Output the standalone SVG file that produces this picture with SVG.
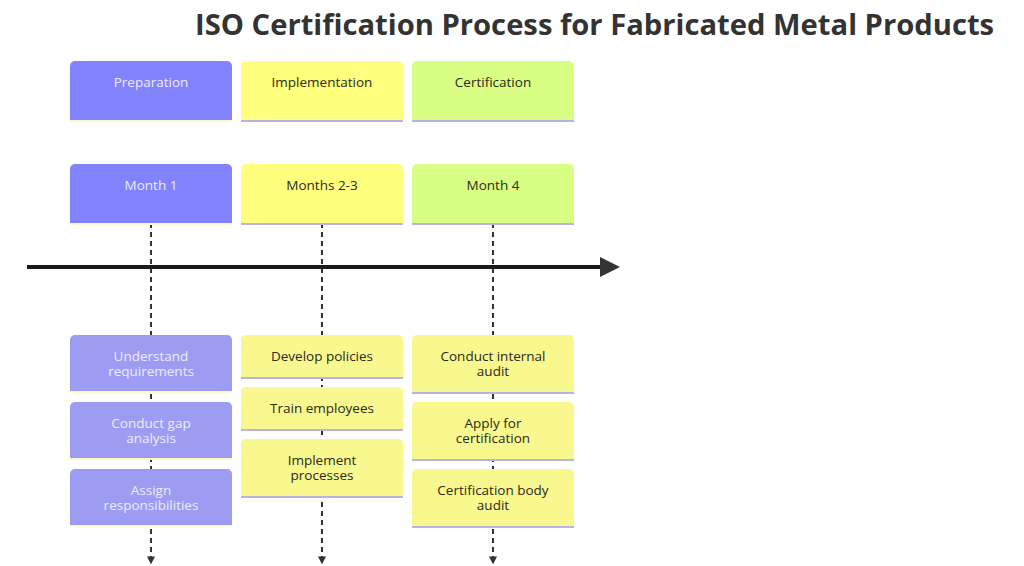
<svg xmlns="http://www.w3.org/2000/svg" width="1024" height="566" viewBox="0 0 1024 566">
<style>
  text { font-family: "Open Sans", "Noto Sans", sans-serif; font-size: 13.5px; text-anchor: middle; dominant-baseline: central; }
  .title { font-size: 29.2px; font-weight: bold; fill: #333; text-anchor: start; dominant-baseline: auto; }
  .p0 { fill: #8282fd; }
  .t0 { fill: #9c9cf3; }
  .p1 { fill: #ffff7d; }
  .t1 { fill: #f8f88e; }
  .p2 { fill: #d8ff84; }
  .t2 { fill: #f8f88e; }
  .lp { fill: #ececff; }
  .ld { fill: #2a2a1a; }
  .ln0 { stroke: #fafac8; stroke-width: 2; }
  .ln1 { stroke: #b4b4e6; stroke-width: 2; }
  .dash { stroke: #333; stroke-width: 2; stroke-dasharray: 5 4; fill: none; }
  .axis { stroke: #1a1a1a; stroke-width: 4; fill: none; }
</style>
<defs>
  <marker id="arrowAxis" viewBox="0 0 10 10" refX="2" refY="5" markerWidth="5" markerHeight="5" orient="auto" markerUnits="strokeWidth">
    <path d="M0,0 L10,5 L0,10 z" fill="#333"/>
  </marker>
  <marker id="arrowDown" viewBox="0 0 10 10" refX="2" refY="5" markerWidth="4" markerHeight="4" orient="auto" markerUnits="strokeWidth">
    <path d="M0,0 L10,5 L0,10 z" fill="#333"/>
  </marker>
</defs>
<rect width="1024" height="566" fill="#ffffff"/>
<text class="title" x="195" y="35">ISO Certification Process for Fabricated Metal Products</text>

<g id="connectors">
  <line class="dash" x1="151" y1="223" x2="151" y2="558" marker-end="url(#arrowDown)"/>
  <line class="dash" x1="322" y1="223" x2="322" y2="558" marker-end="url(#arrowDown)"/>
  <line class="dash" x1="493" y1="223" x2="493" y2="558" marker-end="url(#arrowDown)"/>
  <line class="axis" x1="27" y1="267" x2="604" y2="267" marker-end="url(#arrowAxis)"/>
</g>

<g id="section-preparation">
  <path class="p0" d="M70,120 V66 a5,5 0 0 1 5,-5 H227 a5,5 0 0 1 5,5 V120 z"/>
  <line class="ln0" x1="70" y1="121" x2="232" y2="121"/>
  <text class="lp" x="151" y="82">Preparation</text>
</g>
<g id="section-implementation">
  <path class="p1" d="M241,120 V66 a5,5 0 0 1 5,-5 H398 a5,5 0 0 1 5,5 V120 z"/>
  <line class="ln1" x1="241" y1="121" x2="403" y2="121"/>
  <text class="ld" x="322" y="82">Implementation</text>
</g>
<g id="section-certification">
  <path class="p2" d="M412,120 V66 a5,5 0 0 1 5,-5 H569 a5,5 0 0 1 5,5 V120 z"/>
  <line class="ln1" x1="412" y1="121" x2="574" y2="121"/>
  <text class="ld" x="493" y="82">Certification</text>
</g>

<g id="period-month1">
  <path class="p0" d="M70,223 V169 a5,5 0 0 1 5,-5 H227 a5,5 0 0 1 5,5 V223 z"/>
  <line class="ln0" x1="70" y1="224" x2="232" y2="224"/>
  <text class="lp" x="151" y="185">Month 1</text>
</g>
<g id="period-months2-3">
  <path class="p1" d="M241,223 V169 a5,5 0 0 1 5,-5 H398 a5,5 0 0 1 5,5 V223 z"/>
  <line class="ln1" x1="241" y1="224" x2="403" y2="224"/>
  <text class="ld" x="322" y="185">Months 2-3</text>
</g>
<g id="period-month4">
  <path class="p2" d="M412,223 V169 a5,5 0 0 1 5,-5 H569 a5,5 0 0 1 5,5 V223 z"/>
  <line class="ln1" x1="412" y1="224" x2="574" y2="224"/>
  <text class="ld" x="493" y="185">Month 4</text>
</g>

<g id="task-understand">
  <path class="t0" d="M70,391 V340 a5,5 0 0 1 5,-5 H227 a5,5 0 0 1 5,5 V391 z"/>
  <line class="ln0" x1="70" y1="392" x2="232" y2="392"/>
  <text class="lp" x="151" y="356">Understand</text>
  <text class="lp" x="151" y="371">requirements</text>
</g>
<g id="task-gap">
  <path class="t0" d="M70,458 V407 a5,5 0 0 1 5,-5 H227 a5,5 0 0 1 5,5 V458 z"/>
  <line class="ln0" x1="70" y1="459" x2="232" y2="459"/>
  <text class="lp" x="151" y="423">Conduct gap</text>
  <text class="lp" x="151" y="438">analysis</text>
</g>
<g id="task-assign">
  <path class="t0" d="M70,525 V474 a5,5 0 0 1 5,-5 H227 a5,5 0 0 1 5,5 V525 z"/>
  <line class="ln0" x1="70" y1="526" x2="232" y2="526"/>
  <text class="lp" x="151" y="490">Assign</text>
  <text class="lp" x="151" y="505">responsibilities</text>
</g>

<g id="task-policies">
  <path class="t1" d="M241,377 V340 a5,5 0 0 1 5,-5 H398 a5,5 0 0 1 5,5 V377 z"/>
  <line class="ln1" x1="241" y1="378" x2="403" y2="378"/>
  <text class="ld" x="322" y="356">Develop policies</text>
</g>
<g id="task-train">
  <path class="t1" d="M241,429 V392 a5,5 0 0 1 5,-5 H398 a5,5 0 0 1 5,5 V429 z"/>
  <line class="ln1" x1="241" y1="430" x2="403" y2="430"/>
  <text class="ld" x="322" y="408">Train employees</text>
</g>
<g id="task-implement">
  <path class="t1" d="M241,496 V444 a5,5 0 0 1 5,-5 H398 a5,5 0 0 1 5,5 V496 z"/>
  <line class="ln1" x1="241" y1="497" x2="403" y2="497"/>
  <text class="ld" x="322" y="460">Implement</text>
  <text class="ld" x="322" y="475">processes</text>
</g>

<g id="task-internal-audit">
  <path class="t2" d="M412,392 V340 a5,5 0 0 1 5,-5 H569 a5,5 0 0 1 5,5 V392 z"/>
  <line class="ln1" x1="412" y1="393" x2="574" y2="393"/>
  <text class="ld" x="493" y="356">Conduct internal</text>
  <text class="ld" x="493" y="371">audit</text>
</g>
<g id="task-apply">
  <path class="t2" d="M412,459 V407 a5,5 0 0 1 5,-5 H569 a5,5 0 0 1 5,5 V459 z"/>
  <line class="ln1" x1="412" y1="460" x2="574" y2="460"/>
  <text class="ld" x="493" y="423">Apply for</text>
  <text class="ld" x="493" y="438">certification</text>
</g>
<g id="task-body-audit">
  <path class="t2" d="M412,526 V474 a5,5 0 0 1 5,-5 H569 a5,5 0 0 1 5,5 V526 z"/>
  <line class="ln1" x1="412" y1="527" x2="574" y2="527"/>
  <text class="ld" x="493" y="490">Certification body</text>
  <text class="ld" x="493" y="505">audit</text>
</g>
</svg>
